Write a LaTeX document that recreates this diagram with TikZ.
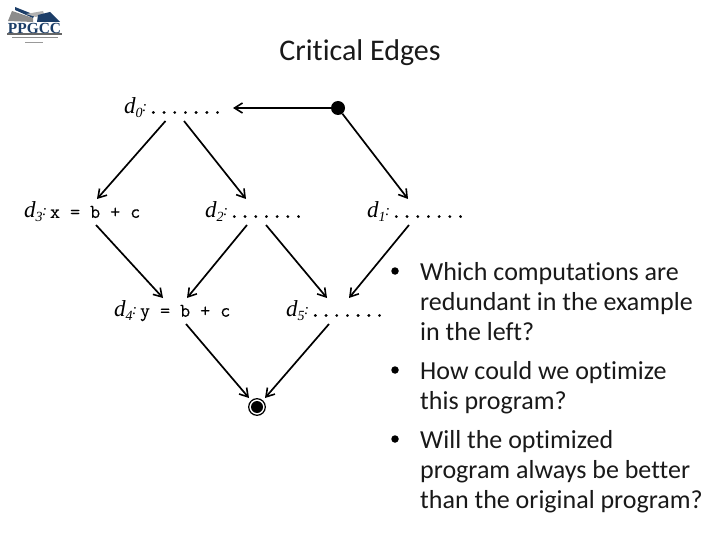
\documentclass[tikz,border=0pt]{standalone}
\usepackage{fontspec}
\setmainfont[Ligatures=NoCommon]{Carlito}
\newfontfamily\dfont{Liberation Serif}
\newfontfamily\logofont{Liberation Serif}
\setmonofont[FakeBold=0.2]{Latin Modern Mono}
\usetikzlibrary{arrows.meta}
\newcommand{\dlab}[1]{{\dfont\itshape\fontsize{23}{23}\selectfont d\raisebox{-4pt}{\fontsize{14}{14}\selectfont #1}\kern-0.5pt\raisebox{2pt}{\fontsize{15}{15}\selectfont:}}}
\newcommand{\onedot}{\hbox to 10.7pt{\hss.\hss}}
\newcommand{\dotrow}{\kern1pt{\ttfamily\fontsize{25}{25}\selectfont\onedot\onedot\onedot\onedot\onedot\onedot\onedot}}
\newcommand{\code}[1]{\kern3pt{\ttfamily\fontsize{19.5}{20}\selectfont #1}}
\definecolor{logoblue}{RGB}{28,62,104}
\tikzset{
 x=1pt,y=-1pt,
 block/.style={minimum width=#1,minimum height=26pt,inner sep=0pt,outer sep=0pt,anchor=center},
 edge/.style={draw=black,line width=1.7pt,-{Straight Barb[length=8pt,width=10pt,line width=1.6pt]}},
 title/.style={font=\fontsize{30}{30}\selectfont,text=black!90,inner sep=0pt},
 bullettext/.style={font=\fontsize{26}{30}\selectfont,text=black!90,align=left,anchor=north west,inner sep=0pt},
 bulletmark/.style={circle,fill=black,inner sep=0pt,minimum size=7.5pt},
}
\begin{document}
\begin{tikzpicture}
\useasboundingbox (0,0) rectangle (720,540);
\fill[white] (0,0) rectangle (720,540);
% logo
\fill[black!45] (8,21) -- (12,11) -- (33,18) -- (33,22) -- cycle;
\fill[logoblue] (15,7) -- (35,15) -- (33,18) -- (15,10) -- cycle;
\fill[black!30] (26,14) -- (43,11) -- (44,14) -- (36,17) -- cycle;
\fill[logoblue] (37,22) -- (38,15) -- (50,12) -- (60,22) -- cycle;
\node[inner sep=0pt,text=logoblue,font=\logofont\bfseries\fontsize{15.4}{15.4}\selectfont] (logoname) at (34.5,28) {PPGCC};
\fill[black!60] (7,33.5) rectangle (62,35.5);
\fill[black!45] (12,37) rectangle (58,38.5);
\fill[black!40] (25,42) rectangle (43,43.5);
% title
\node[title] (ttl) at (360,52.5) {Critical Edges};
% graph
\node[circle,fill=black,inner sep=0pt,minimum size=14pt] (entry) at (338,108) {};
\node[block=94pt] (d0) at (171,108) {\hbox to 94pt{\dlab{0}\dotrow\hss}};
\node[block=117pt] (d3) at (82.5,212) {\hbox to 117pt{\dlab{3}\code{x = b + c}\hss}};
\node[block=95pt] (d2) at (252.5,212) {\hbox to 95pt{\dlab{2}\dotrow\hss}};
\node[block=95pt] (d1) at (414.5,212) {\hbox to 95pt{\dlab{1}\dotrow\hss}};
\node[block=118pt] (d4) at (173,311) {\hbox to 118pt{\dlab{4}\code{y = b + c}\hss}};
\node[block=96pt] (d5) at (334,311) {\hbox to 96pt{\dlab{5}\dotrow\hss}};
\node[circle,fill=black,inner sep=0pt,minimum size=12pt] (exit) at (257,407) {};
\draw[black,line width=1.2pt] (exit) circle (8.3pt);
\draw[edge] (entry) -- ([xshift=15pt]d0.east |- entry);
\draw[edge] ([xshift=-5.5pt]d0.south) -- ([xshift=14.5pt]d3.north);
\draw[edge] ([xshift=13pt]d0.south) -- ([xshift=-6.5pt]d2.north);
\draw[edge] (entry) -- ([xshift=-6.5pt]d1.north);
\draw[edge] ([xshift=13.5pt]d3.south) -- ([xshift=-10pt]d4.north);
\draw[edge] ([xshift=-5.5pt]d2.south) -- ([xshift=14pt]d4.north);
\draw[edge] ([xshift=13.5pt]d2.south) -- ([xshift=-7pt]d5.north);
\draw[edge] ([xshift=-5.5pt]d1.south) -- ([xshift=15pt]d5.north);
\draw[edge] ([xshift=13pt]d4.south) -- ([xshift=-8pt,yshift=9pt]exit.center);
\draw[edge] ([xshift=-5pt]d5.south) -- ([xshift=8pt,yshift=9pt]exit.center);
% bullets
\node[bulletmark] (b1) at (395,271) {};
\node[bulletmark] (b2) at (395,370) {};
\node[bulletmark] (b3) at (395,439) {};
\node[bullettext] (t1) at (420,262) {Which computations are\\redundant in the example\\in the left?};
\node[bullettext] (t2) at (420,361) {How could we optimize\\this program?};
\node[bullettext] (t3) at (420,430.5) {Will the optimized\\program always be better\\than the original program?};
\end{tikzpicture}
\end{document}
